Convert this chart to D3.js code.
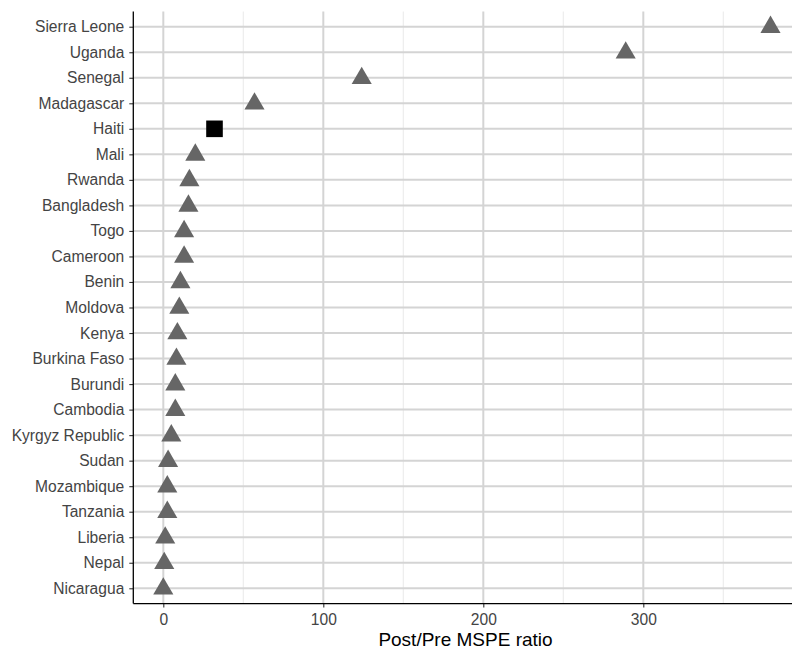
<!DOCTYPE html>
<html>
<head>
<meta charset="utf-8">
<script src="https://cdn.jsdelivr.net/npm/d3@7/dist/d3.min.js"></script>
<style>
  html, body { margin: 0; padding: 0; background: #fff; }
  svg { display: block; }
  text { font-family: "Liberation Sans", Arial, Helvetica, sans-serif; }
</style>
</head>
<body>
<script>
// Countries, top to bottom
const countries = [
  "Sierra Leone", "Uganda", "Senegal", "Madagascar", "Haiti", "Mali", "Rwanda",
  "Bangladesh", "Togo", "Cameroon", "Benin", "Moldova", "Kenya", "Burkina Faso",
  "Burundi", "Cambodia", "Kyrgyz Republic", "Sudan", "Mozambique", "Tanzania",
  "Liberia", "Nepal", "Nicaragua"
];
// Post/Pre MSPE ratio per country
const ratios = [
  379.5, 289, 124, 57, 32, 20, 16.3,
  15.7, 13, 13, 10.7, 10, 8.8, 8.2,
  7.5, 7.5, 5, 3, 2.5, 2.5,
  1.2, 0.6, 0
];
// Treated unit drawn with a square
const treated = ["Haiti"];
const xTicks = [0, 100, 200, 300];
const xMinor = [50, 150, 250, 350];

const W = 792, H = 650;
const pLeft = 133.3, pRight = 793.3, pTop = 11.4, pBottom = 603.6;

const svg = d3.select("body").append("svg")
  .attr("width", W).attr("height", H);

const x = d3.scaleLinear().domain([-18.75, 393.75]).range([pLeft, pRight]);
const y = d3.scalePoint().domain(countries).range([pTop, pBottom]).padding(0.6);

const grid = svg.append("g");
// minor vertical grid
grid.append("g").selectAll("line").data(xMinor).join("line")
  .attr("x1", d => x(d)).attr("x2", d => x(d))
  .attr("y1", pTop).attr("y2", pBottom)
  .attr("stroke", "#ebebeb").attr("stroke-width", 1.1);
// major vertical grid
grid.append("g").selectAll("line").data(xTicks).join("line")
  .attr("x1", d => x(d)).attr("x2", d => x(d))
  .attr("y1", pTop).attr("y2", pBottom)
  .attr("stroke", "#d4d4d4").attr("stroke-width", 2);
// horizontal grid
grid.append("g").selectAll("line").data(countries).join("line")
  .attr("x1", pLeft).attr("x2", pRight)
  .attr("y1", d => y(d)).attr("y2", d => y(d))
  .attr("stroke", "#d4d4d4").attr("stroke-width", 2);

// axes
const xAxis = svg.append("g")
  .attr("transform", `translate(0,${pBottom})`)
  .call(d3.axisBottom(x).tickValues(xTicks).tickSize(4).tickPadding(6.5).tickFormat(d3.format("d")));
const yAxis = svg.append("g")
  .attr("transform", `translate(${pLeft},0)`)
  .call(d3.axisLeft(y).tickSize(4).tickPadding(5));

[xAxis, yAxis].forEach(g => {
  g.select(".domain").remove();
  g.selectAll(".tick line").attr("stroke", "#333").attr("stroke-width", 1.1);
  g.selectAll(".tick text").attr("fill", "#444").style("font-size", "15.6px")
    .style("font-family", '"Liberation Sans", Arial, sans-serif');
});

// axis lines
svg.append("line").attr("x1", pLeft).attr("x2", pLeft).attr("y1", pTop).attr("y2", pBottom)
  .attr("stroke", "#000").attr("stroke-width", 1.3);
svg.append("line").attr("x1", pLeft).attr("x2", pRight).attr("y1", pBottom).attr("y2", pBottom)
  .attr("stroke", "#000").attr("stroke-width", 1.3);

// points
const pts = countries.map((c, i) => ({ country: c, value: ratios[i] }));
const triangle = d3.symbol().type(d3.symbolTriangle).size(175);
svg.append("g").selectAll("path").data(pts.filter(d => !treated.includes(d.country))).join("path")
  .attr("d", triangle)
  .attr("transform", d => `translate(${x(d.value)},${y(d.country) + 0.5})`)
  .attr("fill", "#666666");
svg.append("g").selectAll("rect").data(pts.filter(d => treated.includes(d.country))).join("rect")
  .attr("x", d => x(d.value) - 8.3).attr("y", d => y(d.country) - 8.3)
  .attr("width", 16.6).attr("height", 16.6)
  .attr("fill", "#000");

// axis title
svg.append("text")
  .attr("x", 465.5).attr("y", 646)
  .attr("text-anchor", "middle")
  .style("font-size", "19px").attr("fill", "#000")
  .text("Post/Pre MSPE ratio");
</script>
</body>
</html>
